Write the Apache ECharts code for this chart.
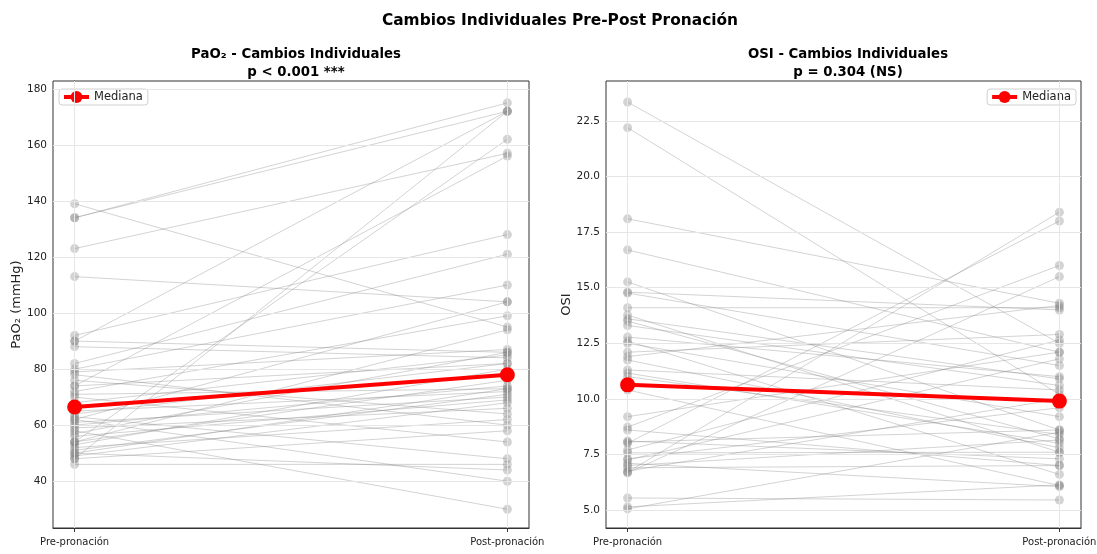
<!DOCTYPE html>
<html>
<head>
<meta charset="utf-8">
<script src="https://cdn.jsdelivr.net/npm/echarts@6/dist/echarts.min.js"></script>
<style>html,body{margin:0;padding:0;background:#fff}#c{width:1097px;height:554px}</style>
</head>
<body>
<div id="c"></div>
<script>
// ---- Data ----
const phases = ['Pre-pronación', 'Post-pronación'];

const pao2Pre  = [139,134,134,123,113,92,90,90,88,82,80,79,78,74,74,72,71,68,66.5,65,63,62,61,60,59,58,56,54,54,54,53,52,50,50,49,48,48,46,62,70,76,64,57,51];
const pao2Post = [95,172,175,157,104,128,172,86,84,121,110,87,60,156,82,99,73,85,78,72,48,104,70,74,66,30,69,162,94,76,80,62,73,44,68,172,58,46,40,54,64,82,86,71];
const pao2Median = [66.5, 78];
const pao2Ticks = [40, 60, 80, 100, 120, 140, 160, 180];

const osiPre  = [23.35,22.2,18.1,16.7,15.26,14.8,14.76,14.1,13.77,13.6,13.5,12.78,12.6,12.5,11.9,11.75,11.3,11.16,10.63,10.4,9.2,8.73,8.6,8.06,8.0,7.7,7.57,7.25,7.1,7.0,6.7,6.67,6.9,5.54,5.14,5.05,6.75,12.1,13.3,11.0,7.3,8.1];
const osiPost = [12.5,10.2,14.3,12.1,8.6,14.0,11.5,14.1,7.6,10.9,8.2,11.0,6.6,9.2,14.2,7.8,10.4,8.0,9.9,6.1,12.1,16.0,7.0,8.6,18.0,12.65,7.6,11.8,6.05,8.15,18.4,15.5,7.0,5.45,6.13,8.5,10.0,12.9,10.6,8.4,9.6,7.3];
const osiMedian = [10.63, 9.9];
const osiTicks = [5.0, 7.5, 10.0, 12.5, 15.0, 17.5, 20.0, 22.5];

// ---- Build ----
const FONT = 'DejaVu Sans';
const GRAY = 'rgba(128,128,128,0.35)';

function patientSeries(pre, post, gi) {
  return pre.map((p, i) => ({
    type: 'line', xAxisIndex: gi, yAxisIndex: gi, silent: true,
    name: 'p' + gi + '_' + i,
    data: [[0, p], [1, post[i]]],
    symbol: 'circle', symbolSize: 9, z: 2,
    lineStyle: { color: GRAY, width: 1 },
    itemStyle: { color: GRAY },
    emphasis: { disabled: true }, animation: false
  }));
}
function medianSeries(med, gi) {
  return {
    type: 'line', xAxisIndex: gi, yAxisIndex: gi, name: 'Mediana',
    data: [[0, med[0]], [1, med[1]]],
    symbol: 'circle', symbolSize: 15, z: 5,
    lineStyle: { color: '#ff0000', width: 4 },
    itemStyle: { color: '#ff0000' }, animation: false
  };
}
function gridSeries(ticks, gi) {
  const d = ticks.map(t => ({ yAxis: t })).concat([{ xAxis: 0 }, { xAxis: 1 }]);
  return {
    type: 'line', xAxisIndex: gi, yAxisIndex: gi, data: [], z: 1, silent: true, animation: false,
    markLine: { silent: true, symbol: 'none', label: { show: false },
      lineStyle: { color: '#e6e6e6', width: 1, type: 'solid' }, data: d, animation: false }
  };
}
function xAxisCfg(gi) {
  return {
    type: 'value', gridIndex: gi, min: -0.05, max: 1.05,
    axisLine: { show: true, lineStyle: { color: '#333' } },
    axisTick: { show: true, customValues: [0, 1], length: 4, lineStyle: { color: '#333' } },
    axisLabel: { customValues: [0, 1], formatter: v => phases[Math.round(v)], color: '#222', fontFamily: FONT, fontSize: 10, margin: 9 },
    splitLine: { show: false }
  };
}
function yAxisCfg(gi, min, max, ticks, fmt, name, gap) {
  return {
    type: 'value', gridIndex: gi, min: min, max: max,
    name: name, nameLocation: 'middle', nameGap: gap,
    nameTextStyle: { fontFamily: FONT, fontSize: 13, color: '#222' },
    axisLine: { show: true, lineStyle: { color: '#333' } },
    axisTick: { show: true, customValues: ticks, length: 4, lineStyle: { color: '#333' } },
    axisLabel: { customValues: ticks, formatter: fmt, color: '#222', fontFamily: FONT, fontSize: 10.5, margin: 6 },
    splitLine: { show: false }
  };
}
function legendCfg(pos) {
  return Object.assign({
    data: ['Mediana'], top: 89, orient: 'vertical', itemWidth: 25, itemHeight: 15, itemGap: 4,
    padding: [2, 5, 2, 3], borderColor: '#d0d0d0', borderWidth: 1, borderRadius: 3, backgroundColor: '#fff',
    lineStyle: { width: 4 },
    textStyle: { fontFamily: FONT, fontSize: 11.5, color: '#222' }
  }, pos);
}

const option = {
  backgroundColor: '#fff',
  animation: false,
  title: [
    { text: 'Cambios Individuales Pre-Post Pronación', left: 555, top: 8, textAlign: 'center',
      textStyle: { fontFamily: FONT, fontSize: 15.4, fontWeight: 'bold', color: '#000' } },
    { text: 'PaO₂ - Cambios Individuales\np < 0.001 ***', left: 291, top: 41, textAlign: 'center',
      textStyle: { fontFamily: FONT, fontSize: 13.3, fontWeight: 'bold', color: '#000', lineHeight: 18 } },
    { text: 'OSI - Cambios Individuales\np = 0.304 (NS)', left: 843, top: 41, textAlign: 'center',
      textStyle: { fontFamily: FONT, fontSize: 13.3, fontWeight: 'bold', color: '#000', lineHeight: 18 } }
  ],
  legend: [ legendCfg({ left: 59 }), legendCfg({ right: 1097 - 1076 }) ],
  grid: [
    { left: 53, top: 81, width: 476, bottom: 26, show: true, borderColor: '#333', borderWidth: 1, containLabel: false, outerBoundsMode: 'none' },
    { left: 606, top: 81, width: 475, bottom: 26, show: true, borderColor: '#333', borderWidth: 1, containLabel: false, outerBoundsMode: 'none' }
  ],
  xAxis: [xAxisCfg(0), xAxisCfg(1)],
  yAxis: [
    yAxisCfg(0, 23.3, 182.8, pao2Ticks, v => String(Math.round(v)), 'PaO₂ (mmHg)', 29),
    yAxisCfg(1, 4.19, 24.3, osiTicks, v => v.toFixed(1), 'OSI', 32)
  ],
  series: [].concat(
    [gridSeries(pao2Ticks, 0), gridSeries(osiTicks, 1)],
    patientSeries(pao2Pre, pao2Post, 0),
    patientSeries(osiPre, osiPost, 1),
    [medianSeries(pao2Median, 0), medianSeries(osiMedian, 1)]
  )
};

const chart = echarts.init(document.getElementById('c'), null, { renderer: 'canvas' });
chart.setOption(option);
</script>
</body>
</html>
